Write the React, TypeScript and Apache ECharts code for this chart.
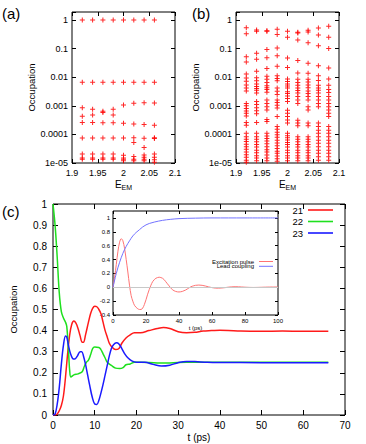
import React, { useEffect, useRef } from "react";
import * as echarts from "echarts";

const FONT = "Liberation Sans, Arial, sans-serif";

// ---------- panel (a) ----------
const A_X = [1.92, 1.94, 1.96, 1.98, 2.0, 2.02, 2.04, 2.06];
const A_192 = [1, 0.0066, 8.6e-4, 4.3e-4, 2.6e-4, 7.5e-5, 2.05e-5, 1.5e-5, 1.35e-5];
const A_194 = [1, 0.0066, 7.6e-4, 4.8e-4, 2.6e-4, 7.5e-5, 2.05e-5, 1.5e-5, 1.35e-5];
const A_196 = [1, 0.0066, 6.5e-4, 5.8e-4, 2.55e-4, 7.5e-5, 2.05e-5, 1.5e-5, 1.35e-5];
const A_198 = [1, 0.0066, 7.6e-4, 4.8e-4, 2.55e-4, 7.5e-5, 2.05e-5, 1.5e-5, 1.35e-5];
const A_200 = [1, 0.0066, 1.07e-3, 2.45e-4, 7.5e-5, 1.85e-5, 1.5e-5, 1.35e-5, 1.2e-5];
const A_202 = [1, 0.0066, 1.22e-3, 2.3e-4, 7.7e-5, 5.2e-5, 1.7e-5, 1.35e-5, 1.2e-5];
const A_204 = [1, 0.0066, 1.27e-3, 2.2e-4, 7.3e-5, 3.5e-5, 1.9e-5, 1.6e-5, 1.35e-5, 1.2e-5];
const A_206 = [1, 0.0066, 1.25e-3, 2.1e-4, 7.7e-5, 7.2e-5, 2.05e-5, 1.6e-5, 1.3e-5, 1.07e-5];
const A_COLS = [A_192, A_194, A_196, A_198, A_200, A_202, A_204, A_206];

// ---------- panel (b) ----------
const B_X = [1.92, 1.94, 1.96, 1.98, 2.0, 2.02, 2.04, 2.06, 2.08];
const B_192 = [0.54, 0.33, 0.052, 0.034, 0.013, 0.0094, 0.0072, 0.0053, 0.0042, 0.0033,
  0.0012, 0.001, 8.1e-4, 6.6e-4, 5.5e-4, 4.4e-4, 2.6e-4, 2.1e-4, 1.1e-4, 8.3e-5, 6.8e-5,
  5.6e-5, 4.5e-5, 3.7e-5, 3.0e-5, 2.4e-5, 1.95e-5, 1.6e-5, 1.26e-5, 1.07e-5];
const B_194 = [0.45, 0.4, 0.068, 0.042, 0.016, 0.0096, 0.0075, 0.0058, 0.0047, 0.004, 0.0035,
  0.0028, 0.0014, 0.0011, 8.5e-4, 6.7e-4, 5.3e-4, 2.6e-4, 1.1e-4, 8.3e-5, 6.7e-5, 5.5e-5,
  4.4e-5, 3.6e-5, 2.8e-5, 2.3e-5, 1.8e-5, 1.5e-5, 1.2e-5];
const B_196 = [0.42, 0.4, 0.092, 0.048, 0.02, 0.0107, 0.0085, 0.0065, 0.005, 0.0043, 0.0037,
  0.003, 0.0016, 0.0012, 9.3e-4, 7.1e-4, 3.3e-4, 2.8e-4, 1.1e-4, 8.8e-5, 7.2e-5, 5.9e-5,
  4.7e-5, 3.7e-5, 2.9e-5, 2.4e-5, 1.9e-5, 1.5e-5, 1.2e-5];
const B_198 = [0.47, 0.31, 0.105, 0.056, 0.024, 0.0113, 0.009, 0.0075, 0.0042, 0.0032, 0.0025,
  0.0016, 0.0013, 0.00105, 8.3e-4, 4.2e-4, 1.9e-4, 1.5e-4, 1.2e-4, 9.8e-5, 7.9e-5, 6.3e-5,
  5.0e-5, 4.0e-5, 3.2e-5, 2.6e-5, 2.2e-5, 1.75e-5, 1.4e-5, 1.15e-5];
const B_200 = [0.4, 0.25, 0.047, 0.022, 0.0086, 0.0071, 0.0058, 0.0049, 0.0042, 0.0031, 0.0027,
  0.0022, 0.0018, 0.0014, 7e-4, 5.5e-4, 4.2e-4, 3.2e-4, 2.5e-4, 1.1e-4, 9e-5, 7.6e-5, 6.4e-5,
  5.2e-5, 4.4e-5, 3.6e-5, 2.8e-5, 2.3e-5, 1.8e-5, 1.5e-5, 1.2e-5];
const B_202 = [0.37, 0.35, 0.2, 0.038, 0.014, 0.0085, 0.0065, 0.0052, 0.0042, 0.0034, 0.0028,
  0.0021, 0.0016, 0.0012, 3.1e-4, 2.5e-4, 2e-4, 8.3e-5, 6.7e-5, 5.5e-5, 4.4e-5, 3.6e-5,
  2.8e-5, 2.3e-5, 1.8e-5, 1.5e-5, 1.2e-5];
const B_204 = [0.44, 0.38, 0.16, 0.031, 0.0137, 0.0085, 0.0068, 0.0053, 0.0043, 0.0033, 0.0027,
  0.0021, 0.0016, 9.3e-4, 7.1e-4, 2.5e-4, 2e-4, 8.3e-5, 6.7e-5, 5.5e-5, 4.4e-5, 3.6e-5,
  2.8e-5, 2.3e-5, 1.8e-5, 1.5e-5, 1.2e-5];
const B_206 = [0.52, 0.3, 0.126, 0.025, 0.0113, 0.0077, 0.0052, 0.0042, 0.0035, 0.0028, 0.0021,
  0.0016, 0.0012, 9.3e-4, 2.5e-4, 1.9e-4, 1.4e-4, 1.1e-4, 8.3e-5, 6.3e-5, 4.9e-5, 3.7e-5,
  2.8e-5, 2.2e-5, 1.65e-5, 1.26e-5];
const B_208 = [0.6, 0.25, 0.1, 0.021, 0.0086, 0.0052, 0.0037, 0.0029, 0.0021, 0.0016, 0.0012,
  9.3e-4, 7.1e-4, 5.5e-4, 4.2e-4, 1.9e-4, 1.4e-4, 1.1e-4, 8.3e-5, 6.3e-5, 4.9e-5, 3.7e-5,
  2.8e-5, 2.2e-5, 1.65e-5, 1.26e-5];
const B_COLS = [B_192, B_194, B_196, B_198, B_200, B_202, B_204, B_206, B_208];

const LOG_TICK_LABELS = ["1e-05", "0.0001", "0.001", "0.01", "0.1", "1"]; // 10^-5 .. 10^0

// ---------- panel (c) main ----------
const T21 = [0, 0.5, 1, 1.5, 2, 2.5, 3, 3.5, 4, 4.5, 5, 5.5, 6, 6.5, 7, 7.3, 7.8, 8.5, 9, 9.5, 10,
  10.5, 11, 11.5, 12, 12.5, 13, 13.5, 14, 15, 15.8, 16.5, 17.5, 18.5, 19.5, 21, 23, 25, 26.5, 28,
  30, 32, 34, 36, 38, 40, 42, 45, 50, 55, 60, 66];
const V21 = [0, 0, 0.005, 0.02, 0.045, 0.09, 0.18, 0.29, 0.38, 0.43, 0.445, 0.435, 0.41, 0.375,
  0.345, 0.345, 0.38, 0.44, 0.48, 0.505, 0.515, 0.513, 0.5, 0.48, 0.44, 0.4, 0.37, 0.34, 0.325,
  0.31, 0.315, 0.34, 0.365, 0.38, 0.39, 0.39, 0.4, 0.41, 0.415, 0.41, 0.395, 0.39, 0.392, 0.398,
  0.4, 0.402, 0.401, 0.398, 0.397, 0.398, 0.397, 0.397];
const T22 = [0, 0.5, 1, 1.5, 2, 2.5, 3, 3.3, 3.7, 4, 4.3, 5, 6, 7, 7.5, 8, 8.5, 9, 9.5, 10, 11,
  11.5, 12, 12.5, 13, 14, 15, 16, 16.8, 17.5, 18.5, 19.5, 21, 25, 28, 32, 40, 66];
const V22 = [1, 0.9, 0.75, 0.58, 0.49, 0.46, 0.44, 0.42, 0.31, 0.21, 0.18, 0.19, 0.195, 0.205,
  0.23, 0.25, 0.26, 0.285, 0.315, 0.322, 0.32, 0.31, 0.29, 0.27, 0.25, 0.235, 0.222, 0.22,
  0.225, 0.238, 0.242, 0.25, 0.25, 0.247, 0.247, 0.25, 0.25, 0.25];
const T23 = [0, 0.5, 1, 1.5, 2, 2.5, 3, 3.3, 3.7, 4.2, 4.7, 5.2, 5.8, 6.5, 6.9, 7.3, 7.8, 8.3,
  8.8, 9.4, 10, 10.5, 11, 11.5, 12, 12.5, 13, 13.5, 14, 14.5, 15.2, 15.8, 16.5, 17.2, 18, 19,
  20, 22, 24, 26, 28, 30, 32, 34, 37, 40, 50, 66];
const V23 = [0, 0.005, 0.05, 0.13, 0.24, 0.33, 0.375, 0.37, 0.33, 0.29, 0.268, 0.265, 0.278,
  0.3, 0.3, 0.28, 0.24, 0.19, 0.14, 0.085, 0.052, 0.05, 0.07, 0.105, 0.145, 0.19, 0.235, 0.28,
  0.315, 0.333, 0.342, 0.337, 0.315, 0.29, 0.27, 0.255, 0.25, 0.25, 0.24, 0.232, 0.236, 0.248,
  0.254, 0.253, 0.25, 0.249, 0.248, 0.248];

// ---------- inset ----------
const T_PULSE = [0, 1, 2, 3, 4, 5, 6, 7, 8, 9, 10, 11, 12, 13, 14, 15, 16, 17, 18, 19, 20, 21, 22,
  23, 24, 25, 26, 27, 28, 29, 30, 31, 32, 33, 34, 35, 36, 37, 38, 39, 40, 41, 42, 43, 44, 45, 46,
  47, 48, 49, 50, 52, 54, 56, 58, 60, 62, 64, 66, 68, 70, 72, 74, 76, 78, 80, 85, 90, 95, 100];
const V_PULSE = [0, 0.15, 0.33, 0.52, 0.65, 0.7, 0.67, 0.56, 0.4, 0.22, 0.03, -0.12, -0.2, -0.26,
  -0.29, -0.31, -0.32, -0.32, -0.3, -0.25, -0.18, -0.1, -0.03, 0.03, 0.08, 0.11, 0.13, 0.14,
  0.145, 0.14, 0.13, 0.11, 0.08, 0.05, 0.02, -0.01, -0.035, -0.05, -0.06, -0.066, -0.068,
  -0.065, -0.06, -0.05, -0.04, -0.025, -0.01, 0.005, 0.015, 0.022, 0.028, 0.032, 0.028, 0.018,
  0.005, -0.005, -0.012, -0.013, -0.01, -0.005, 0.002, 0.006, 0.008, 0.007, 0.004, 0.001,
  -0.003, 0, 0.003, 0.004];
const T_LEAD = [0, 2, 4, 6, 8, 10, 12, 14, 16, 18, 20, 22, 25, 30, 35, 40, 50, 60, 80, 100];
const V_LEAD = [0, 0.2, 0.36, 0.49, 0.59, 0.67, 0.74, 0.79, 0.83, 0.87, 0.9, 0.92, 0.94, 0.965,
  0.98, 0.99, 0.997, 1, 1, 1];

const pairs = (xs: number[], ys: number[]) => xs.map((x, i) => [x, ys[i]]);
const scatterData = (xs: number[], cols: number[][]) =>
  xs.flatMap((x, i) => cols[i].map((v) => [x, v]));

const PLUS = "path://M2,0H3V2H5V3H3V5H2V3H0V2H2Z";

function axis(extra: any, labels: boolean, fontSize: number, tickLen: number, margin: number) {
  return {
    axisLine: { show: false, onZero: false },
    splitLine: { show: false },
    axisTick: { show: true, inside: true, length: tickLen, lineStyle: { color: "#000", width: 1 } },
    axisLabel: {
      show: labels,
      color: "#000",
      fontFamily: FONT,
      fontSize,
      margin,
    },
    nameTextStyle: { color: "#000", fontFamily: FONT, fontSize: 10 },
    ...extra,
  };
}

function logLabel(v: number) {
  const l = Math.log10(v);
  const e = Math.round(l);
  if (Math.abs(l - e) > 0.01 || e > 0 || e < -5) return "";
  return LOG_TICK_LABELS[e + 5];
}

function buildOption() {
  const grids = [
    { left: 72, top: 12, width: 103, height: 151 },
    { left: 236, top: 12, width: 103, height: 151 },
    { left: 48, top: 204, width: 297, height: 211 },
    { left: 113, top: 211, width: 165, height: 104, backgroundColor: "#fff" },
  ].map((g) => ({
    show: true,
    borderColor: "#000",
    borderWidth: 1,
    containLabel: false,
    backgroundColor: "transparent",
    ...g,
  }));

  const eName = {
    name: "{e|E}{s|EM}",
    nameLocation: "middle",
    nameGap: 14,
    nameTextStyle: {
      color: "#000",
      fontFamily: FONT,
      rich: {
        e: { fontSize: 10, fontFamily: FONT, color: "#000" },
        s: { fontSize: 7, fontFamily: FONT, color: "#000", padding: [7, 0, 0, 0] },
      },
    },
  };
  const occName = (gap: number, size: number) => ({
    name: "Occupation",
    nameLocation: "middle",
    nameGap: gap,
    nameRotate: 90,
    nameTextStyle: { color: "#000", fontFamily: FONT, fontSize: size },
  });

  const eX = (gi: number, pos: string, labels: boolean) =>
    axis({ type: "value", gridIndex: gi, position: pos, min: 1.9, max: 2.1, interval: 0.05, ...(labels ? eName : {}) }, labels, 9, 4, 5);
  const logY = (gi: number, pos: string, labels: boolean) =>
    axis(
      {
        type: "log",
        logBase: 10,
        gridIndex: gi,
        position: pos,
        min: 1e-5,
        max: 1.9,
        ...(labels ? occName(30, 9.5) : {}),
      },
      labels,
      9,
      4,
      4
    );

  const xAxis: any[] = [
    eX(0, "bottom", true),
    eX(0, "top", false),
    eX(1, "bottom", true),
    eX(1, "top", false),
    axis({ type: "value", gridIndex: 2, position: "bottom", min: 0, max: 70, interval: 10, name: "t (ps)", nameLocation: "middle", nameGap: 17 }, true, 10, 5, 5),
    axis({ type: "value", gridIndex: 2, position: "top", min: 0, max: 70, interval: 10 }, false, 10, 5, 5),
    axis({ type: "value", gridIndex: 3, position: "bottom", min: 0, max: 100, interval: 20, name: "t (ps)", nameLocation: "middle", nameGap: 9, nameTextStyle: { color: "#000", fontFamily: FONT, fontSize: 6 } }, true, 6, 3, 3),
    axis({ type: "value", gridIndex: 3, position: "top", min: 0, max: 100, interval: 20 }, false, 6, 3, 3),
  ];
  const yAxis: any[] = [
    logY(0, "left", true),
    logY(0, "right", false),
    logY(1, "left", true),
    logY(1, "right", false),
    axis({ type: "value", gridIndex: 2, position: "left", min: 0, max: 1, interval: 0.1, ...occName(35, 9.5) }, true, 10, 5, 6),
    axis({ type: "value", gridIndex: 2, position: "right", min: 0, max: 1, interval: 0.1 }, false, 10, 5, 6),
    axis({ type: "value", gridIndex: 3, position: "left", min: -0.4, max: 1.1, interval: 0.2 }, true, 6, 3, 3),
    axis({ type: "value", gridIndex: 3, position: "right", min: -0.4, max: 1.1, interval: 0.2 }, false, 6, 3, 3),
  ];
  for (const i of [0, 2]) {
    yAxis[i].axisLabel.formatter = logLabel;
  }
  yAxis[6].axisLabel.showMaxLabel = false;

  const scatter = (xi: number, data: number[][]) => ({
    type: "scatter",
    xAxisIndex: xi,
    yAxisIndex: xi,
    symbol: PLUS,
    symbolSize: 5,
    itemStyle: { color: "#ff0000", opacity: 0.85 },
    data,
  });
  const line = (name: string, xi: number, data: number[][], color: string, width: number) => ({
    type: "line",
    name,
    xAxisIndex: xi,
    yAxisIndex: xi,
    data,
    smooth: 0.35,
    symbol: "none",
    showSymbol: false,
    color,
    itemStyle: { color },
    lineStyle: { color, width },
  });

  const pulse: any = line("Excitation pulse", 6, pairs(T_PULSE, V_PULSE), "#ff7373", 1);
  pulse.markLine = {
    silent: true,
    symbol: "none",
    label: { show: false },
    lineStyle: { color: "#c8c8c8", type: "solid", width: 1 },
    data: [{ yAxis: 0 }],
  };

  const legendItem = (name: string, right: number, centerY: number, fontSize: number, lh: number, w: number) => ({
    data: [name],
    right,
    top: centerY - lh / 2,
    orient: "vertical",
    align: "right",
    icon: "rect",
    itemWidth: w,
    itemHeight: fontSize > 8 ? 1.6 : 1,
    padding: 0,
    selectedMode: false,
    textStyle: { color: "#000", fontFamily: FONT, fontSize, lineHeight: lh },
  });

  return {
    animation: false,
    backgroundColor: "#fff",
    textStyle: { fontFamily: FONT },
    grid: grids,
    xAxis,
    yAxis,
    legend: [
      legendItem("21", 33, 209.5, 9.5, 9, 25),
      legendItem("22", 33, 221, 9.5, 9, 25),
      legendItem("23", 33, 232.5, 9.5, 9, 25),
      legendItem("Excitation pulse", 93, 260.8, 6, 4.6, 14),
      legendItem("Lead coupling", 93, 265.6, 6, 4.6, 14),
    ],
    graphic: [
      { type: "text", left: 2, top: 6, style: { text: "(a)", font: `15px ${FONT}`, fill: "#000" } },
      { type: "text", left: 192, top: 6, style: { text: "(b)", font: `15px ${FONT}`, fill: "#000" } },
      { type: "text", left: 2, top: 204, style: { text: "(c)", font: `15px ${FONT}`, fill: "#000" } },
    ],
    series: [
      scatter(0, scatterData(A_X, A_COLS)),
      scatter(2, scatterData(B_X, B_COLS)),
      line("21", 4, pairs(T21, V21), "#ff1a1a", 1.5),
      line("22", 4, pairs(T22, V22), "#1ee01e", 1.5),
      line("23", 4, pairs(T23, V23), "#1a1aff", 1.5),
      pulse,
      line("Lead coupling", 6, pairs(T_LEAD, V_LEAD), "#7373ff", 1),
    ],
  };
}

export default function App() {
  const ref = useRef<HTMLDivElement>(null);
  useEffect(() => {
    if (!ref.current) return;
    const chart = echarts.init(ref.current, undefined, { renderer: "svg" });
    chart.setOption(buildOption() as any);
    return () => chart.dispose();
  }, []);
  return (
    <div
      ref={ref}
      style={{ position: "fixed", left: 0, top: 0, width: 366, height: 444, background: "#fff" }}
    />
  );
}
